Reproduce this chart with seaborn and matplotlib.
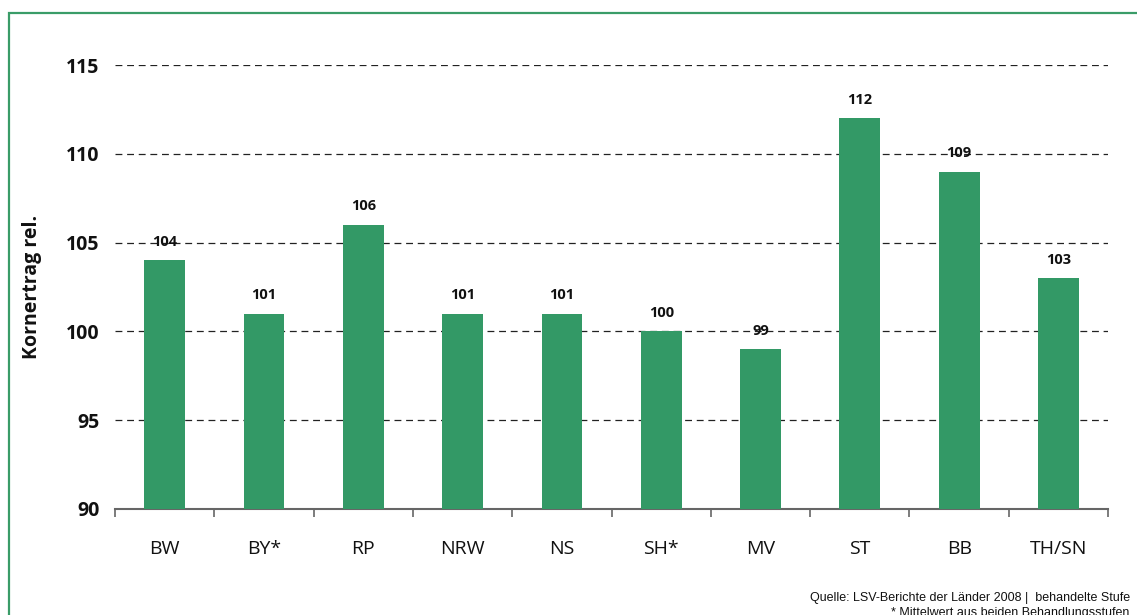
import matplotlib

matplotlib.use("Agg")

import matplotlib.pyplot as plt
from matplotlib.patches import Rectangle
from matplotlib.ticker import FixedLocator
import numpy as np
import pandas as pd
import seaborn as sns

REGIONS = ["BW", "BY*", "RP", "NRW", "NS", "SH*", "MV", "ST", "BB", "TH/SN"]
YIELD_REL = [104, 101, 106, 101, 101, 100, 99, 112, 109, 103]
Y_TICKS = [90, 95, 100, 105, 110, 115]

GREEN = "#339966"
FRAME = "#3a9c68"
TEXT = "#111111"

sns.set_theme(style="white")
plt.rcParams["font.family"] = ["Open Sans", "DejaVu Sans"]

data = pd.DataFrame({"region": REGIONS, "value": YIELD_REL})

fig = plt.figure(figsize=(11.37, 6.15), dpi=100)
ax = fig.add_axes([0.1011, 0.1724, 0.8735, 0.7219])

sns.barplot(data=data, x="region", y="value", color=GREEN, saturation=1,
            width=0.41, linewidth=0, ax=ax, zorder=3)

ax.set_ylim(90, 115)
ax.set_xlim(-0.5, len(REGIONS) - 0.5)
for y in Y_TICKS[1:]:
    ax.axhline(y, color="#222222", linewidth=0.9, linestyle=(0, (5.5, 3.8)), zorder=1)

ax.set_yticks(Y_TICKS)
ax.set_yticklabels([str(t) for t in Y_TICKS], fontsize=14, fontweight="bold", color=TEXT)
ax.tick_params(axis="y", length=0, pad=11)
ax.set_xticks(range(len(REGIONS)))
ax.set_xticklabels(REGIONS, fontsize=14, color=TEXT)
ax.tick_params(axis="x", length=0, pad=22)
ax.xaxis.set_minor_locator(FixedLocator(np.arange(-0.5, len(REGIONS), 1.0)))
ax.tick_params(axis="x", which="minor", length=6, width=1.2, color="#666666",
               direction="out", bottom=True)

for side in ["top", "right", "left"]:
    ax.spines[side].set_visible(False)
ax.spines["bottom"].set_color("#666666")
ax.spines["bottom"].set_linewidth(1.5)

ax.set_xlabel("")
ax.set_ylabel("Kornertrag rel.", fontsize=14, fontweight="bold", color=TEXT, labelpad=17)

for i, v in enumerate(YIELD_REL):
    ax.text(i, v + 0.65, str(v), ha="center", va="bottom", fontsize=10.5,
            fontweight="bold", color=TEXT, zorder=4)

fig.patches.append(Rectangle((9 / 1137, -0.1), 1.2, 1 - 13 / 615 + 0.1,
                             transform=fig.transFigure, fill=False,
                             edgecolor=FRAME, linewidth=1.6))

fig.text(1130 / 1137, 1 - 598 / 615, "Quelle: LSV-Berichte der Länder 2008 |  behandelte Stufe",
         ha="right", va="center", fontsize=9, family="Liberation Sans", color=TEXT)
fig.text(891 / 1137, 1 - 613 / 615, "* Mittelwert aus beiden Behandlungsstufen",
         ha="left", va="center", fontsize=9, family="Liberation Sans", color=TEXT)

fig.savefig("out.png", dpi=100)
